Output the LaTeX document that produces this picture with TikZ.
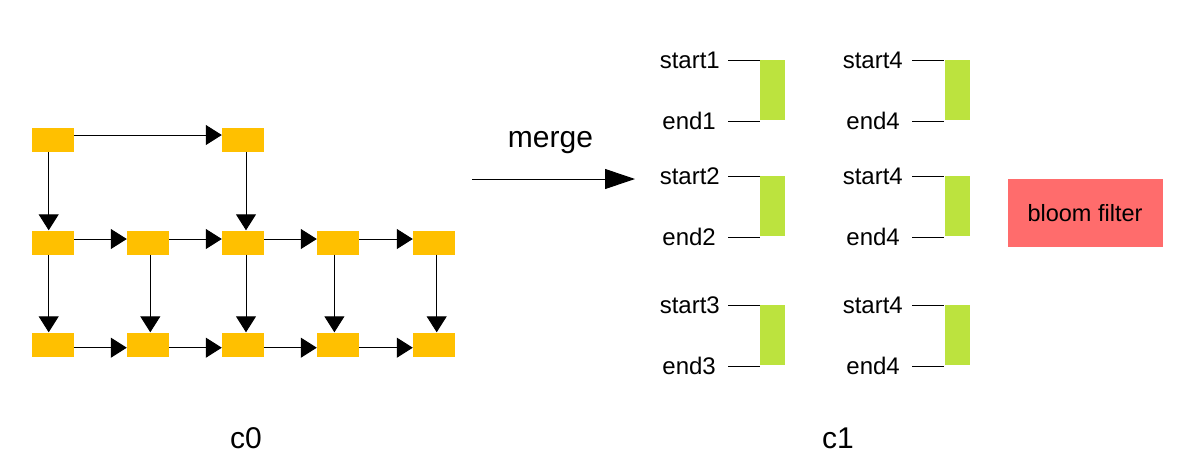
\documentclass[tikz,border=0pt]{standalone}
\usepackage{fontspec}
\setmainfont{Liberation Sans}
\usetikzlibrary{arrows.meta}
\definecolor{boxorange}{HTML}{FFC000}
\definecolor{bargreen}{HTML}{BCE33E}
\definecolor{bloomred}{HTML}{FF6C6C}
\begin{document}
\begin{tikzpicture}[x=1pt,y=-1pt,
  obox/.style={fill=boxorange, minimum width=42pt, minimum height=24pt, inner sep=0pt},
  gbar/.style={fill=bargreen, minimum width=25pt, minimum height=60pt, inner sep=0pt},
  lbl/.style={font=\fontsize{24}{28}\selectfont, inner sep=0pt, anchor=base east},
  flow/.style={-{Triangle[length=16pt,width=20pt]}, line width=1pt},
  tickline/.style={line width=1pt},
  captext/.style={font=\fontsize{30}{34}\selectfont, inner sep=0pt, anchor=base}]
\useasboundingbox (0,0) rectangle (1189,472);
% left graph
\node[obox] (r1c1) at (53,140) {};
\node[obox] (r1c3) at (243,140) {};
\foreach \i/\x in {1/53,2/148,3/243,4/338,5/434}{
  \node[obox] (r2c\i) at (\x,242.5) {};
  \node[obox] (r3c\i) at (\x,344.5) {};
}
\draw[flow] ([yshift=5pt]r1c1.east) -- ([yshift=5pt]r1c3.west);
\draw[flow] ([xshift=-4.3pt]r1c1.south) -- ([xshift=-4.3pt]r2c1.north);
\draw[flow] ([xshift=3pt]r1c3.south) -- ([xshift=3pt]r2c3.north);
\foreach \i/\j in {1/2,2/3,3/4,4/5}{
  \draw[flow] ([yshift=3.5pt]r2c\i.east) -- ([yshift=3.5pt]r2c\j.west);
  \draw[flow] ([yshift=-3.2pt]r3c\i.east) -- ([yshift=-3.2pt]r3c\j.west);
}
\foreach \i/\dx in {1/-4.3,2/2.3,3/3,4/-3.6,5/2.7}{
  \draw[flow] ([xshift=\dx pt]r2c\i.south) -- ([xshift=\dx pt]r3c\i.north);
}
\node[captext] (c0) at (246,448) {c0};
% merge arrow
\coordinate (mfrom) at (472,179);
\coordinate (mto) at (635,179);
\draw[-{Triangle[length=30pt,width=20pt]}, line width=1pt] (mfrom) -- (mto);
\node[font=\fontsize{30}{34}\selectfont, inner sep=0pt, anchor=base] (merge) at (550.5,147.5) {merge};
% right bars
\foreach \r/\yt/\yb/\n in {1/60/120/1,2/176/236/2,3/305/365/3}{
  \node[gbar] (ga\r) at (772.5,{(\yt+\yb)/2}) {};
  \node[gbar] (gb\r) at (957,{(\yt+\yb)/2}) {};
  \node[lbl] (sa\r) at (720,\yt+8) {start\n};
  \node[lbl] (ea\r) at (716,\yb+9.5) {end\n};
  \node[lbl] (sb\r) at (903,\yt+8) {start4};
  \node[lbl] (eb\r) at (900,\yb+9.5) {end4};
  \coordinate (lsa\r) at (728,\yt);
  \coordinate (lea\r) at (728,\yb+1);
  \coordinate (lsb\r) at (912,\yt);
  \coordinate (leb\r) at (912,\yb+1);
  \draw[tickline] (lsa\r) -- (lsa\r -| ga\r.west);
  \draw[tickline] (lea\r) -- (lea\r -| ga\r.west);
  \draw[tickline] (lsb\r) -- (lsb\r -| gb\r.west);
  \draw[tickline] (leb\r) -- (leb\r -| gb\r.west);
}
\node[fill=bloomred, minimum width=155pt, minimum height=67.5pt, inner sep=0pt,
  font=\fontsize{23.5}{27}\selectfont] (bloom) at (1085,212.8) {bloom filter};
\node[captext] (c1) at (838,448) {c1};
\end{tikzpicture}
\end{document}
